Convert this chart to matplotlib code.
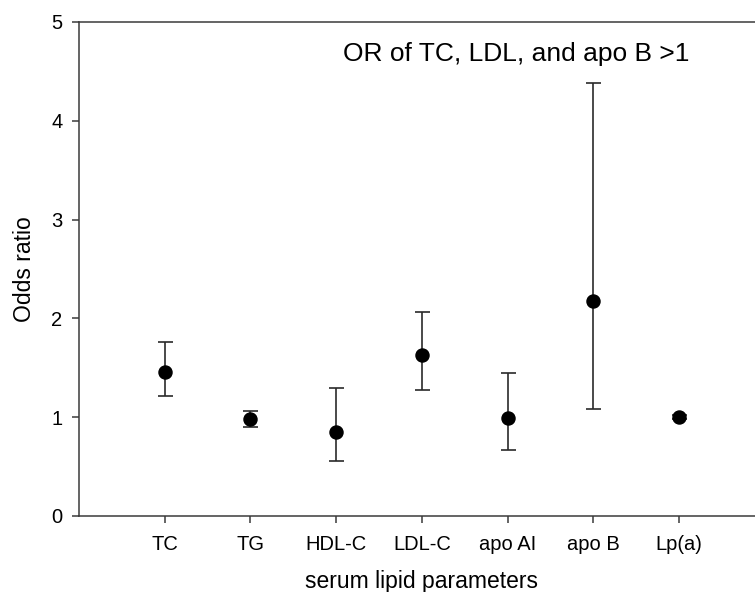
import numpy as np
import matplotlib
matplotlib.use("Agg")
import matplotlib.pyplot as plt

# values
params = ["TC", "TG", "HDL-C", "LDL-C", "apo AI", "apo B", "Lp(a)"]
odds = [1.46, 0.98, 0.85, 1.63, 0.99, 2.18, 1.00]
ci_low = [1.21, 0.90, 0.56, 1.28, 0.67, 1.08, 0.98]
ci_high = [1.76, 1.06, 1.30, 2.06, 1.45, 4.38, 1.02]
yticks = [0, 1, 2, 3, 4, 5]

plt.rcParams["font.family"] = ["Liberation Sans", "DejaVu Sans"]

fig = plt.figure(figsize=(7.55, 5.92), dpi=100)
ax = fig.add_axes([0.1046, 0.1284, 0.9086, 0.8345])

x = np.arange(1, len(params) + 1)
odds = np.array(odds)
yerr = np.array([odds - np.array(ci_low), np.array(ci_high) - odds])

ax.errorbar(x, odds, yerr=yerr, fmt="o", color="black", ecolor="#2a2a2a",
            elinewidth=1.2, capsize=5.4, capthick=1.2, markersize=9.4)

ax.set_xlim(0, 8)
ax.set_ylim(0, 5)
ax.set_xticks(x)
ax.set_xticklabels(params)
ax.set_yticks(yticks)

for side in ["left", "bottom", "top"]:
    ax.spines[side].set_color("#3a3a3a")
    ax.spines[side].set_linewidth(1.1)
ax.spines["right"].set_visible(False)

ax.tick_params(axis="both", direction="out", length=5, width=1.1,
               color="#3a3a3a", labelsize=14.5)
ax.tick_params(axis="x", pad=9)
ax.tick_params(axis="y", pad=7)

ax.set_xlabel("serum lipid parameters", fontsize=16.5, labelpad=11)
ax.set_ylabel("Odds ratio", fontsize=16.5, labelpad=11)

ax.text(0.385, 0.935, "OR of TC, LDL, and apo B >1", transform=ax.transAxes,
        fontsize=19, va="center", ha="left")

fig.savefig("out.png", dpi=100)
